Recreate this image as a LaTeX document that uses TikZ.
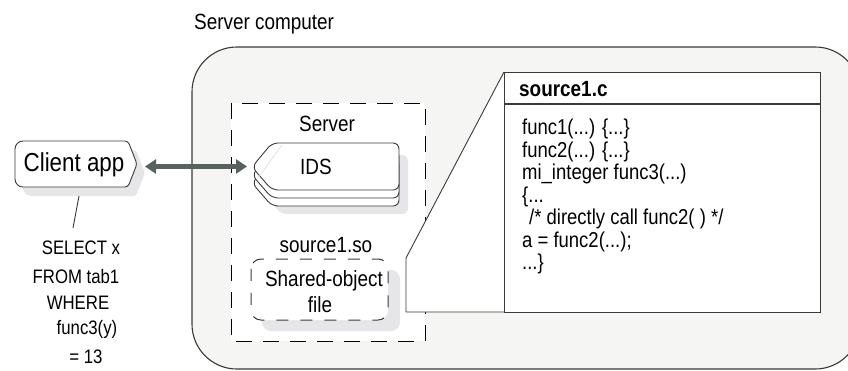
\documentclass[tikz,border=0pt]{standalone}
\usepackage{fontspec}
\setmainfont{Liberation Sans}[FakeStretch=0.86]
\usetikzlibrary{arrows.meta}
\definecolor{bgfill}{HTML}{F5F5F3}
\definecolor{shadowc}{HTML}{E6E6E8}
\definecolor{arrowc}{HTML}{58625E}
\definecolor{edgec}{HTML}{3A3A3A}
\newcommand{\myfs}[1]{\fontsize{#1bp}{#1bp}\selectfont}
\begin{document}
\begin{tikzpicture}[x=1bp,y=-1bp,
  every node/.style={inner sep=0pt},
  txt/.style={font=\myfs{22}},
  qtxt/.style={font=\myfs{19.5}},
  codetxt/.style={font=\myfs{21.5}, anchor=west},
  outline/.style={draw=edgec, line width=0.9bp},
  shade/.style={fill=shadowc},
  srvdash/.style={draw=black, line width=0.9bp, dash pattern=on 16bp off 11bp},
  sodash/.style={draw=edgec, line width=1bp, dash pattern=on 12bp off 12bp},
  conn/.style={draw=arrowc, line width=4.5bp, {Triangle[length=11bp,width=14bp]}-{Triangle[length=11bp,width=14bp]}}
]
\useasboundingbox (0,0) rectangle (848,370);
\clip (0,0) rectangle (848,370);

% outer server computer
\draw[outline, line width=1.1bp, fill=bgfill, rounded corners=45] (192,47) rectangle (860,369);
\node[txt, anchor=west] (servercomp) at (194,24) {Server computer};

% dashed server box
\draw[srvdash, fill=white] (231,103) rectangle (425,341);
\node[txt] (serverlbl) at (327,124) {Server};

% IDS stacked shape
\fill[shade, rounded corners=6] (258,185) -- (281,155) -- (408,155) -- (408,214) -- (281,214) -- cycle;
\foreach \d in {16,8,0}{
  \draw[outline, fill=white, rounded corners=6]
    (252,167+\d) -- (272,143+\d) -- (399,143+\d) -- (399,190+\d) -- (272,190+\d) -- cycle;
}
\draw[black!15, line width=0.6bp] (282,145) -- (258,178);
\node[txt] (ids) at (316,167) {IDS};

% shared object
\fill[shade, rounded corners=9] (262,270) rectangle (400,331);
\draw[sodash, fill=white, rounded corners=10] (251,259) rectangle (388,320);
\node[txt] (solbl) at (326,245) {source1.so};
\node[txt] (so1) at (324,281) {Shared-object};
\node[txt] (so2) at (320,305) {file};

% client app
\fill[shade] [rounded corners=8] (78,150) -- (23,150) -- (23,196) -- (78,196) [rounded corners=3] -- (136,196) -- (145,173) -- (136,150) -- cycle;
\draw[outline, fill=white] [rounded corners=8] (70,141) -- (15,141) -- (15,187) -- (70,187) [rounded corners=3] -- (128,187) -- (137,164) -- (128,141) -- cycle;
\node[font=\myfs{26}] (client) at (74,165) {Client app};

% arrow
\coordinate (arrL) at (145,166.5);
\coordinate (arrR) at (247,166.5);
\draw[conn] (arrL) -- (arrR);

% query
\coordinate (qtop) at (79,196);
\coordinate (qbot) at (73,228);
\draw[edgec, line width=0.9bp] (qtop) -- (qbot);
\node[qtxt] (sel1) at (81,248) {SELECT x};
\node[qtxt] (sel2) at (76,277) {FROM tab1};
\node[qtxt] (sel3) at (78,303) {WHERE};
\node[qtxt] (sel4) at (87,329) {func3(y)};
\node[qtxt] (sel5) at (86,357) {= 13};

% callout
\draw[outline, fill=white] (504,72) -- (406,258) -- (406,312) -- (504,312);
\draw[outline, fill=white] (504,72) rectangle (820,312);
\draw[outline, line width=1.1bp] (504,104) -- (820,104);
\node[font=\myfs{22}\bfseries, anchor=west] (srchead) at (519,89) {source1.c};
\node[codetxt] (c1) at (522,129) {func1(...) \{...\}};
\node[codetxt] (c2) at (522,152) {func2(...) \{...\}};
\node[codetxt] (c3) at (522,174) {mi\_integer func3(...)};
\node[codetxt] (c4) at (522,197) {\{...};
\node[codetxt] (c5) at (529,219) {/* directly call func2( ) */};
\node[codetxt] (c6) at (522,242) {a = func2(...);};
\node[codetxt] (c7) at (522,264) {...\}};
\end{tikzpicture}
\end{document}
